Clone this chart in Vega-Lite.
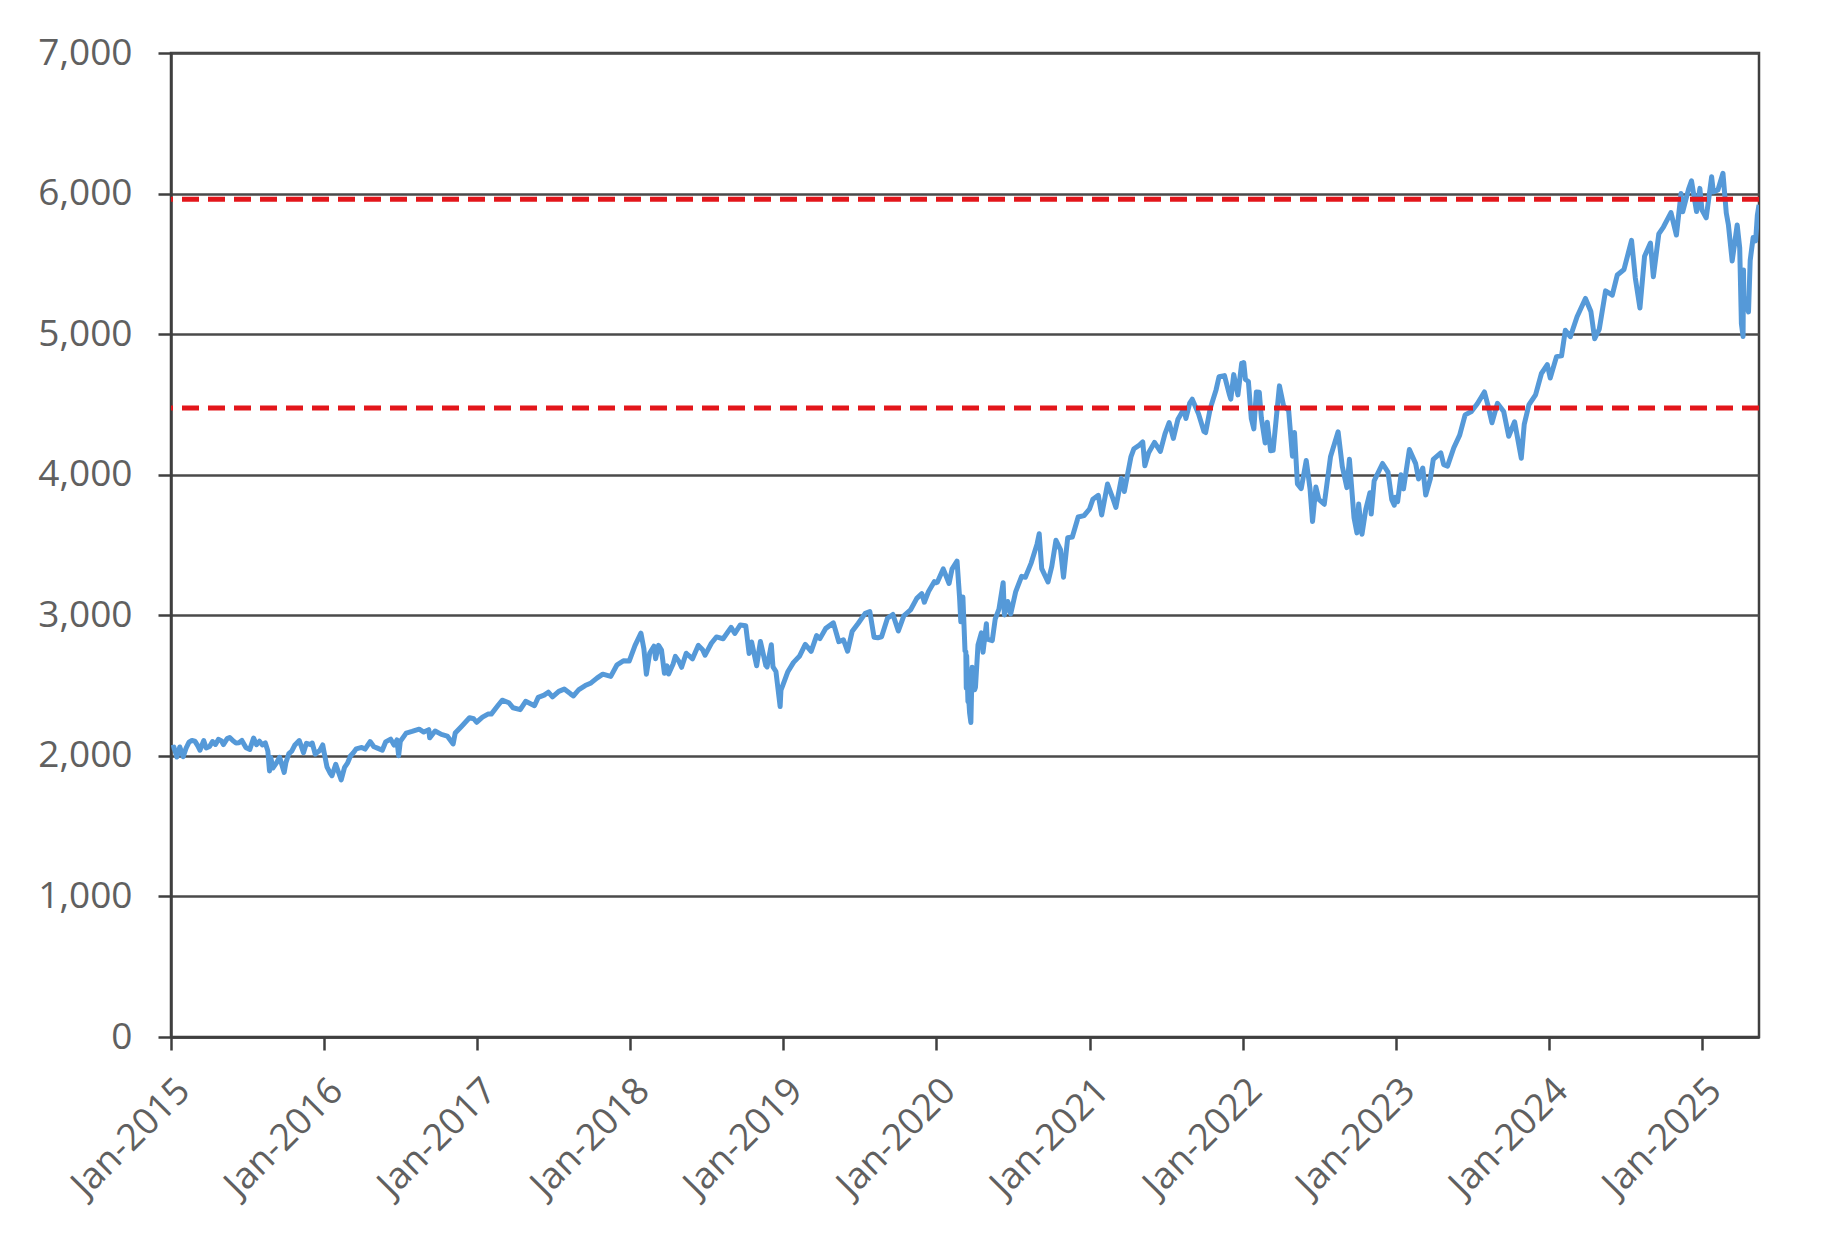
{
  "$schema": "https://vega.github.io/schema/vega-lite/v6.json",
  "width": 1588,
  "height": 984,
  "autosize": {"type": "none"},
  "padding": {"left": 171, "top": 53, "right": 87, "bottom": 204},
  "background": "white",
  "config": {
    "view": {"stroke": "#3f3f3f", "strokeWidth": 2.5},
    "axis": {
      "labelFont": "Open Sans",
      "labelFontSize": 37,
      "labelColor": "#606060",
      "domainColor": "#3f3f3f",
      "domainWidth": 2.5,
      "tickColor": "#3f3f3f",
      "tickWidth": 2.5,
      "tickSize": 13,
      "title": null
    }
  },
  "datasets": {
    "spx": [
      {"d": "2015-01-02", "v": 2058}, {"d": "2015-01-08", "v": 2062}, {"d": "2015-01-15", "v": 1992},
      {"d": "2015-01-22", "v": 2063}, {"d": "2015-01-30", "v": 1995}, {"d": "2015-02-06", "v": 2055},
      {"d": "2015-02-13", "v": 2097}, {"d": "2015-02-20", "v": 2110}, {"d": "2015-02-27", "v": 2105},
      {"d": "2015-03-06", "v": 2071}, {"d": "2015-03-11", "v": 2040}, {"d": "2015-03-20", "v": 2108},
      {"d": "2015-03-26", "v": 2056}, {"d": "2015-04-03", "v": 2067}, {"d": "2015-04-10", "v": 2102},
      {"d": "2015-04-17", "v": 2081}, {"d": "2015-04-24", "v": 2117}, {"d": "2015-05-01", "v": 2108},
      {"d": "2015-05-06", "v": 2080}, {"d": "2015-05-15", "v": 2123}, {"d": "2015-05-21", "v": 2131},
      {"d": "2015-05-29", "v": 2107}, {"d": "2015-06-05", "v": 2092}, {"d": "2015-06-12", "v": 2094},
      {"d": "2015-06-19", "v": 2110}, {"d": "2015-06-29", "v": 2058}, {"d": "2015-07-08", "v": 2046},
      {"d": "2015-07-17", "v": 2127}, {"d": "2015-07-24", "v": 2079}, {"d": "2015-07-31", "v": 2104},
      {"d": "2015-08-07", "v": 2078}, {"d": "2015-08-14", "v": 2092}, {"d": "2015-08-20", "v": 2035},
      {"d": "2015-08-24", "v": 1893}, {"d": "2015-08-27", "v": 1988}, {"d": "2015-09-01", "v": 1914},
      {"d": "2015-09-10", "v": 1952}, {"d": "2015-09-17", "v": 1990}, {"d": "2015-09-28", "v": 1882},
      {"d": "2015-10-02", "v": 1951}, {"d": "2015-10-09", "v": 2015}, {"d": "2015-10-16", "v": 2033},
      {"d": "2015-10-23", "v": 2075}, {"d": "2015-11-03", "v": 2109}, {"d": "2015-11-13", "v": 2023},
      {"d": "2015-11-20", "v": 2089}, {"d": "2015-12-02", "v": 2079}, {"d": "2015-12-04", "v": 2091},
      {"d": "2015-12-11", "v": 2012}, {"d": "2015-12-14", "v": 2021}, {"d": "2015-12-22", "v": 2038},
      {"d": "2015-12-29", "v": 2078}, {"d": "2015-12-31", "v": 2044},
      {"d": "2016-01-08", "v": 1922}, {"d": "2016-01-15", "v": 1880}, {"d": "2016-01-20", "v": 1859},
      {"d": "2016-01-29", "v": 1940}, {"d": "2016-02-05", "v": 1880}, {"d": "2016-02-11", "v": 1829},
      {"d": "2016-02-19", "v": 1918}, {"d": "2016-02-26", "v": 1948}, {"d": "2016-03-04", "v": 1999},
      {"d": "2016-03-11", "v": 2022}, {"d": "2016-03-18", "v": 2050}, {"d": "2016-03-31", "v": 2060},
      {"d": "2016-04-08", "v": 2048}, {"d": "2016-04-20", "v": 2102}, {"d": "2016-04-29", "v": 2065},
      {"d": "2016-05-06", "v": 2057}, {"d": "2016-05-19", "v": 2040}, {"d": "2016-05-27", "v": 2099},
      {"d": "2016-06-08", "v": 2119}, {"d": "2016-06-16", "v": 2077}, {"d": "2016-06-23", "v": 2113},
      {"d": "2016-06-27", "v": 2001}, {"d": "2016-07-01", "v": 2103}, {"d": "2016-07-15", "v": 2162},
      {"d": "2016-07-29", "v": 2174}, {"d": "2016-08-15", "v": 2190}, {"d": "2016-08-26", "v": 2169},
      {"d": "2016-09-07", "v": 2186}, {"d": "2016-09-09", "v": 2128}, {"d": "2016-09-22", "v": 2177},
      {"d": "2016-10-07", "v": 2153}, {"d": "2016-10-21", "v": 2141}, {"d": "2016-11-04", "v": 2085},
      {"d": "2016-11-09", "v": 2163}, {"d": "2016-11-25", "v": 2213}, {"d": "2016-12-13", "v": 2271},
      {"d": "2016-12-23", "v": 2264}, {"d": "2016-12-30", "v": 2239},
      {"d": "2017-01-13", "v": 2275}, {"d": "2017-01-26", "v": 2297}, {"d": "2017-02-03", "v": 2297},
      {"d": "2017-02-17", "v": 2351}, {"d": "2017-03-01", "v": 2396}, {"d": "2017-03-17", "v": 2378},
      {"d": "2017-03-27", "v": 2342}, {"d": "2017-04-13", "v": 2329}, {"d": "2017-04-26", "v": 2388},
      {"d": "2017-05-17", "v": 2357}, {"d": "2017-05-26", "v": 2416}, {"d": "2017-06-09", "v": 2432},
      {"d": "2017-06-19", "v": 2453}, {"d": "2017-06-29", "v": 2419}, {"d": "2017-07-14", "v": 2459},
      {"d": "2017-07-27", "v": 2475}, {"d": "2017-08-11", "v": 2441}, {"d": "2017-08-18", "v": 2426},
      {"d": "2017-08-31", "v": 2472}, {"d": "2017-09-15", "v": 2500}, {"d": "2017-09-29", "v": 2519},
      {"d": "2017-10-13", "v": 2553}, {"d": "2017-10-27", "v": 2581}, {"d": "2017-11-15", "v": 2565},
      {"d": "2017-11-30", "v": 2648}, {"d": "2017-12-15", "v": 2676}, {"d": "2017-12-29", "v": 2674},
      {"d": "2018-01-12", "v": 2786}, {"d": "2018-01-26", "v": 2873}, {"d": "2018-02-02", "v": 2762},
      {"d": "2018-02-08", "v": 2581}, {"d": "2018-02-16", "v": 2732}, {"d": "2018-02-26", "v": 2780},
      {"d": "2018-03-02", "v": 2691}, {"d": "2018-03-09", "v": 2786}, {"d": "2018-03-16", "v": 2752},
      {"d": "2018-03-23", "v": 2588}, {"d": "2018-03-29", "v": 2641}, {"d": "2018-04-02", "v": 2582},
      {"d": "2018-04-13", "v": 2656}, {"d": "2018-04-18", "v": 2708}, {"d": "2018-04-27", "v": 2670},
      {"d": "2018-05-03", "v": 2630}, {"d": "2018-05-14", "v": 2730}, {"d": "2018-05-29", "v": 2690},
      {"d": "2018-06-12", "v": 2786}, {"d": "2018-06-22", "v": 2755}, {"d": "2018-06-28", "v": 2716},
      {"d": "2018-07-13", "v": 2801}, {"d": "2018-07-25", "v": 2846}, {"d": "2018-08-10", "v": 2833},
      {"d": "2018-08-29", "v": 2914}, {"d": "2018-09-07", "v": 2872}, {"d": "2018-09-20", "v": 2931},
      {"d": "2018-10-03", "v": 2926}, {"d": "2018-10-11", "v": 2728}, {"d": "2018-10-17", "v": 2810},
      {"d": "2018-10-29", "v": 2641}, {"d": "2018-11-07", "v": 2814}, {"d": "2018-11-20", "v": 2642},
      {"d": "2018-11-23", "v": 2633}, {"d": "2018-12-03", "v": 2790}, {"d": "2018-12-07", "v": 2633},
      {"d": "2018-12-14", "v": 2600}, {"d": "2018-12-24", "v": 2351}, {"d": "2018-12-26", "v": 2468},
      {"d": "2018-12-31", "v": 2507},
      {"d": "2019-01-11", "v": 2596}, {"d": "2019-01-25", "v": 2665}, {"d": "2019-02-08", "v": 2708},
      {"d": "2019-02-22", "v": 2793}, {"d": "2019-03-08", "v": 2743}, {"d": "2019-03-21", "v": 2855},
      {"d": "2019-03-29", "v": 2834}, {"d": "2019-04-12", "v": 2907}, {"d": "2019-04-30", "v": 2946},
      {"d": "2019-05-13", "v": 2812}, {"d": "2019-05-24", "v": 2826}, {"d": "2019-06-03", "v": 2744},
      {"d": "2019-06-14", "v": 2887}, {"d": "2019-06-28", "v": 2942}, {"d": "2019-07-15", "v": 3014},
      {"d": "2019-07-26", "v": 3026}, {"d": "2019-08-05", "v": 2844}, {"d": "2019-08-14", "v": 2840},
      {"d": "2019-08-23", "v": 2847}, {"d": "2019-09-06", "v": 2979}, {"d": "2019-09-19", "v": 3006},
      {"d": "2019-10-02", "v": 2888}, {"d": "2019-10-15", "v": 2996}, {"d": "2019-10-31", "v": 3038},
      {"d": "2019-11-15", "v": 3120}, {"d": "2019-11-27", "v": 3154}, {"d": "2019-12-03", "v": 3093},
      {"d": "2019-12-13", "v": 3169}, {"d": "2019-12-27", "v": 3240}, {"d": "2019-12-31", "v": 3231},
      {"d": "2020-01-03", "v": 3235}, {"d": "2020-01-17", "v": 3330}, {"d": "2020-01-31", "v": 3226},
      {"d": "2020-02-07", "v": 3328}, {"d": "2020-02-19", "v": 3386}, {"d": "2020-02-25", "v": 3128},
      {"d": "2020-02-28", "v": 2954}, {"d": "2020-03-04", "v": 3130}, {"d": "2020-03-09", "v": 2747},
      {"d": "2020-03-11", "v": 2741}, {"d": "2020-03-12", "v": 2481}, {"d": "2020-03-13", "v": 2711},
      {"d": "2020-03-16", "v": 2386}, {"d": "2020-03-18", "v": 2398}, {"d": "2020-03-20", "v": 2305},
      {"d": "2020-03-23", "v": 2237}, {"d": "2020-03-26", "v": 2630}, {"d": "2020-04-01", "v": 2471},
      {"d": "2020-04-03", "v": 2489}, {"d": "2020-04-09", "v": 2790}, {"d": "2020-04-17", "v": 2875},
      {"d": "2020-04-21", "v": 2737}, {"d": "2020-04-29", "v": 2940}, {"d": "2020-05-01", "v": 2831},
      {"d": "2020-05-13", "v": 2820}, {"d": "2020-05-20", "v": 2972}, {"d": "2020-05-29", "v": 3044},
      {"d": "2020-06-08", "v": 3232}, {"d": "2020-06-11", "v": 3002}, {"d": "2020-06-19", "v": 3098},
      {"d": "2020-06-26", "v": 3009}, {"d": "2020-07-08", "v": 3169}, {"d": "2020-07-22", "v": 3277},
      {"d": "2020-07-31", "v": 3271}, {"d": "2020-08-14", "v": 3373}, {"d": "2020-08-28", "v": 3508},
      {"d": "2020-09-02", "v": 3580}, {"d": "2020-09-08", "v": 3332}, {"d": "2020-09-23", "v": 3237},
      {"d": "2020-10-02", "v": 3348}, {"d": "2020-10-12", "v": 3534}, {"d": "2020-10-23", "v": 3465},
      {"d": "2020-10-30", "v": 3270}, {"d": "2020-11-09", "v": 3551}, {"d": "2020-11-20", "v": 3557},
      {"d": "2020-12-04", "v": 3699}, {"d": "2020-12-18", "v": 3709}, {"d": "2020-12-31", "v": 3756},
      {"d": "2021-01-08", "v": 3825}, {"d": "2021-01-21", "v": 3853}, {"d": "2021-01-29", "v": 3714},
      {"d": "2021-02-12", "v": 3934}, {"d": "2021-02-25", "v": 3829}, {"d": "2021-03-04", "v": 3768},
      {"d": "2021-03-17", "v": 3974}, {"d": "2021-03-24", "v": 3881}, {"d": "2021-04-09", "v": 4129},
      {"d": "2021-04-16", "v": 4185}, {"d": "2021-04-29", "v": 4211}, {"d": "2021-05-07", "v": 4233},
      {"d": "2021-05-12", "v": 4063}, {"d": "2021-05-21", "v": 4156}, {"d": "2021-06-04", "v": 4230},
      {"d": "2021-06-18", "v": 4166}, {"d": "2021-06-29", "v": 4291}, {"d": "2021-07-09", "v": 4370},
      {"d": "2021-07-19", "v": 4258}, {"d": "2021-07-30", "v": 4395}, {"d": "2021-08-13", "v": 4468},
      {"d": "2021-08-18", "v": 4400}, {"d": "2021-08-27", "v": 4509}, {"d": "2021-09-02", "v": 4537},
      {"d": "2021-09-17", "v": 4433}, {"d": "2021-09-30", "v": 4308}, {"d": "2021-10-04", "v": 4300},
      {"d": "2021-10-15", "v": 4471}, {"d": "2021-10-29", "v": 4605}, {"d": "2021-11-05", "v": 4697},
      {"d": "2021-11-18", "v": 4705}, {"d": "2021-11-30", "v": 4567}, {"d": "2021-12-03", "v": 4538},
      {"d": "2021-12-10", "v": 4712}, {"d": "2021-12-20", "v": 4568}, {"d": "2021-12-29", "v": 4793},
      {"d": "2021-12-31", "v": 4766},
      {"d": "2022-01-03", "v": 4797}, {"d": "2022-01-07", "v": 4677}, {"d": "2022-01-14", "v": 4663},
      {"d": "2022-01-21", "v": 4398}, {"d": "2022-01-27", "v": 4326}, {"d": "2022-02-02", "v": 4589},
      {"d": "2022-02-09", "v": 4587}, {"d": "2022-02-14", "v": 4402}, {"d": "2022-02-23", "v": 4226},
      {"d": "2022-02-28", "v": 4374}, {"d": "2022-03-08", "v": 4170}, {"d": "2022-03-14", "v": 4173},
      {"d": "2022-03-29", "v": 4632}, {"d": "2022-04-08", "v": 4488}, {"d": "2022-04-20", "v": 4459},
      {"d": "2022-04-29", "v": 4132}, {"d": "2022-05-04", "v": 4300}, {"d": "2022-05-11", "v": 3935},
      {"d": "2022-05-20", "v": 3901}, {"d": "2022-06-01", "v": 4101}, {"d": "2022-06-10", "v": 3901},
      {"d": "2022-06-16", "v": 3667}, {"d": "2022-06-24", "v": 3912}, {"d": "2022-07-01", "v": 3825},
      {"d": "2022-07-14", "v": 3790}, {"d": "2022-07-29", "v": 4130}, {"d": "2022-08-16", "v": 4305},
      {"d": "2022-08-26", "v": 4058}, {"d": "2022-09-06", "v": 3908}, {"d": "2022-09-12", "v": 4110},
      {"d": "2022-09-23", "v": 3693}, {"d": "2022-09-30", "v": 3586}, {"d": "2022-10-04", "v": 3791},
      {"d": "2022-10-12", "v": 3577}, {"d": "2022-10-21", "v": 3753}, {"d": "2022-10-31", "v": 3872},
      {"d": "2022-11-03", "v": 3720}, {"d": "2022-11-10", "v": 3956}, {"d": "2022-11-30", "v": 4080},
      {"d": "2022-12-13", "v": 4019}, {"d": "2022-12-22", "v": 3822}, {"d": "2022-12-28", "v": 3783},
      {"d": "2022-12-30", "v": 3840},
      {"d": "2023-01-05", "v": 3808}, {"d": "2023-01-13", "v": 3999}, {"d": "2023-01-19", "v": 3899},
      {"d": "2023-02-02", "v": 4179}, {"d": "2023-02-17", "v": 4079}, {"d": "2023-02-24", "v": 3970},
      {"d": "2023-03-06", "v": 4048}, {"d": "2023-03-13", "v": 3855}, {"d": "2023-03-24", "v": 3971},
      {"d": "2023-03-31", "v": 4109}, {"d": "2023-04-18", "v": 4155}, {"d": "2023-04-25", "v": 4071},
      {"d": "2023-05-04", "v": 4061}, {"d": "2023-05-19", "v": 4192}, {"d": "2023-06-02", "v": 4282},
      {"d": "2023-06-15", "v": 4426}, {"d": "2023-06-30", "v": 4450}, {"d": "2023-07-14", "v": 4505},
      {"d": "2023-07-31", "v": 4589}, {"d": "2023-08-08", "v": 4499}, {"d": "2023-08-18", "v": 4370},
      {"d": "2023-08-31", "v": 4508}, {"d": "2023-09-15", "v": 4450}, {"d": "2023-09-27", "v": 4274},
      {"d": "2023-10-11", "v": 4377}, {"d": "2023-10-27", "v": 4117}, {"d": "2023-11-03", "v": 4358},
      {"d": "2023-11-14", "v": 4496}, {"d": "2023-11-30", "v": 4568}, {"d": "2023-12-14", "v": 4720},
      {"d": "2023-12-28", "v": 4783}, {"d": "2023-12-29", "v": 4770},
      {"d": "2024-01-04", "v": 4688}, {"d": "2024-01-19", "v": 4840}, {"d": "2024-01-31", "v": 4846},
      {"d": "2024-02-09", "v": 5027}, {"d": "2024-02-21", "v": 4982}, {"d": "2024-03-08", "v": 5124},
      {"d": "2024-03-28", "v": 5254}, {"d": "2024-04-10", "v": 5161}, {"d": "2024-04-19", "v": 4967},
      {"d": "2024-04-30", "v": 5036}, {"d": "2024-05-15", "v": 5308}, {"d": "2024-05-31", "v": 5278},
      {"d": "2024-06-12", "v": 5421}, {"d": "2024-06-28", "v": 5460}, {"d": "2024-07-16", "v": 5667},
      {"d": "2024-07-25", "v": 5399}, {"d": "2024-08-05", "v": 5186}, {"d": "2024-08-16", "v": 5554},
      {"d": "2024-08-30", "v": 5648}, {"d": "2024-09-06", "v": 5408}, {"d": "2024-09-19", "v": 5713},
      {"d": "2024-09-30", "v": 5762}, {"d": "2024-10-18", "v": 5865}, {"d": "2024-10-31", "v": 5705},
      {"d": "2024-11-11", "v": 6001}, {"d": "2024-11-15", "v": 5870}, {"d": "2024-11-29", "v": 6032},
      {"d": "2024-12-06", "v": 6090}, {"d": "2024-12-18", "v": 5872}, {"d": "2024-12-26", "v": 6037},
      {"d": "2024-12-31", "v": 5882},
      {"d": "2025-01-10", "v": 5827}, {"d": "2025-01-23", "v": 6119}, {"d": "2025-01-27", "v": 6012},
      {"d": "2025-02-07", "v": 6026}, {"d": "2025-02-19", "v": 6144}, {"d": "2025-02-27", "v": 5861},
      {"d": "2025-03-04", "v": 5778}, {"d": "2025-03-13", "v": 5521}, {"d": "2025-03-25", "v": 5777},
      {"d": "2025-03-31", "v": 5612}, {"d": "2025-04-04", "v": 5074}, {"d": "2025-04-08", "v": 4983},
      {"d": "2025-04-09", "v": 5457}, {"d": "2025-04-10", "v": 5268}, {"d": "2025-04-21", "v": 5158},
      {"d": "2025-04-25", "v": 5525}, {"d": "2025-05-02", "v": 5687}, {"d": "2025-05-08", "v": 5664},
      {"d": "2025-05-12", "v": 5844}, {"d": "2025-05-16", "v": 5920}
    ],
    "levels": [{"level": 5960}, {"level": 4475}]
  },
  "layer": [
    {
      "data": {"name": "spx"},
      "mark": {"type": "line", "color": "#5599d8", "strokeWidth": 5, "strokeJoin": "round", "clip": true},
      "encoding": {
        "x": {
          "field": "d",
          "type": "temporal",
          "scale": {
            "type": "utc",
            "domain": [
              {"year": 2015, "month": 1, "date": 1, "utc": true},
              {"year": 2025, "month": 5, "date": 16, "utc": true}
            ]
          },
          "axis": {
            "format": "%b-%Y",
            "tickCount": {"interval": "year", "step": 1},
            "labelAngle": -45,
            "labelPadding": 22,
            "grid": false,
            "labelOverlap": false,
            "labelBound": false,
            "labelFlush": false
          }
        },
        "y": {
          "field": "v",
          "type": "quantitative",
          "scale": {"domain": [0, 7000], "nice": false},
          "axis": {
            "values": [0, 1000, 2000, 3000, 4000, 5000, 6000, 7000],
            "format": ",.0f",
            "grid": true,
            "gridColor": "#4a4a4a",
            "gridWidth": 2.5,
            "gridOpacity": 1,
            "labelPadding": 26
          }
        }
      }
    },
    {
      "data": {"name": "levels"},
      "mark": {"type": "rule", "color": "#e3161b", "strokeWidth": 5, "strokeDash": [17, 9]},
      "encoding": {
        "y": {"field": "level", "type": "quantitative"}
      }
    }
  ]
}
